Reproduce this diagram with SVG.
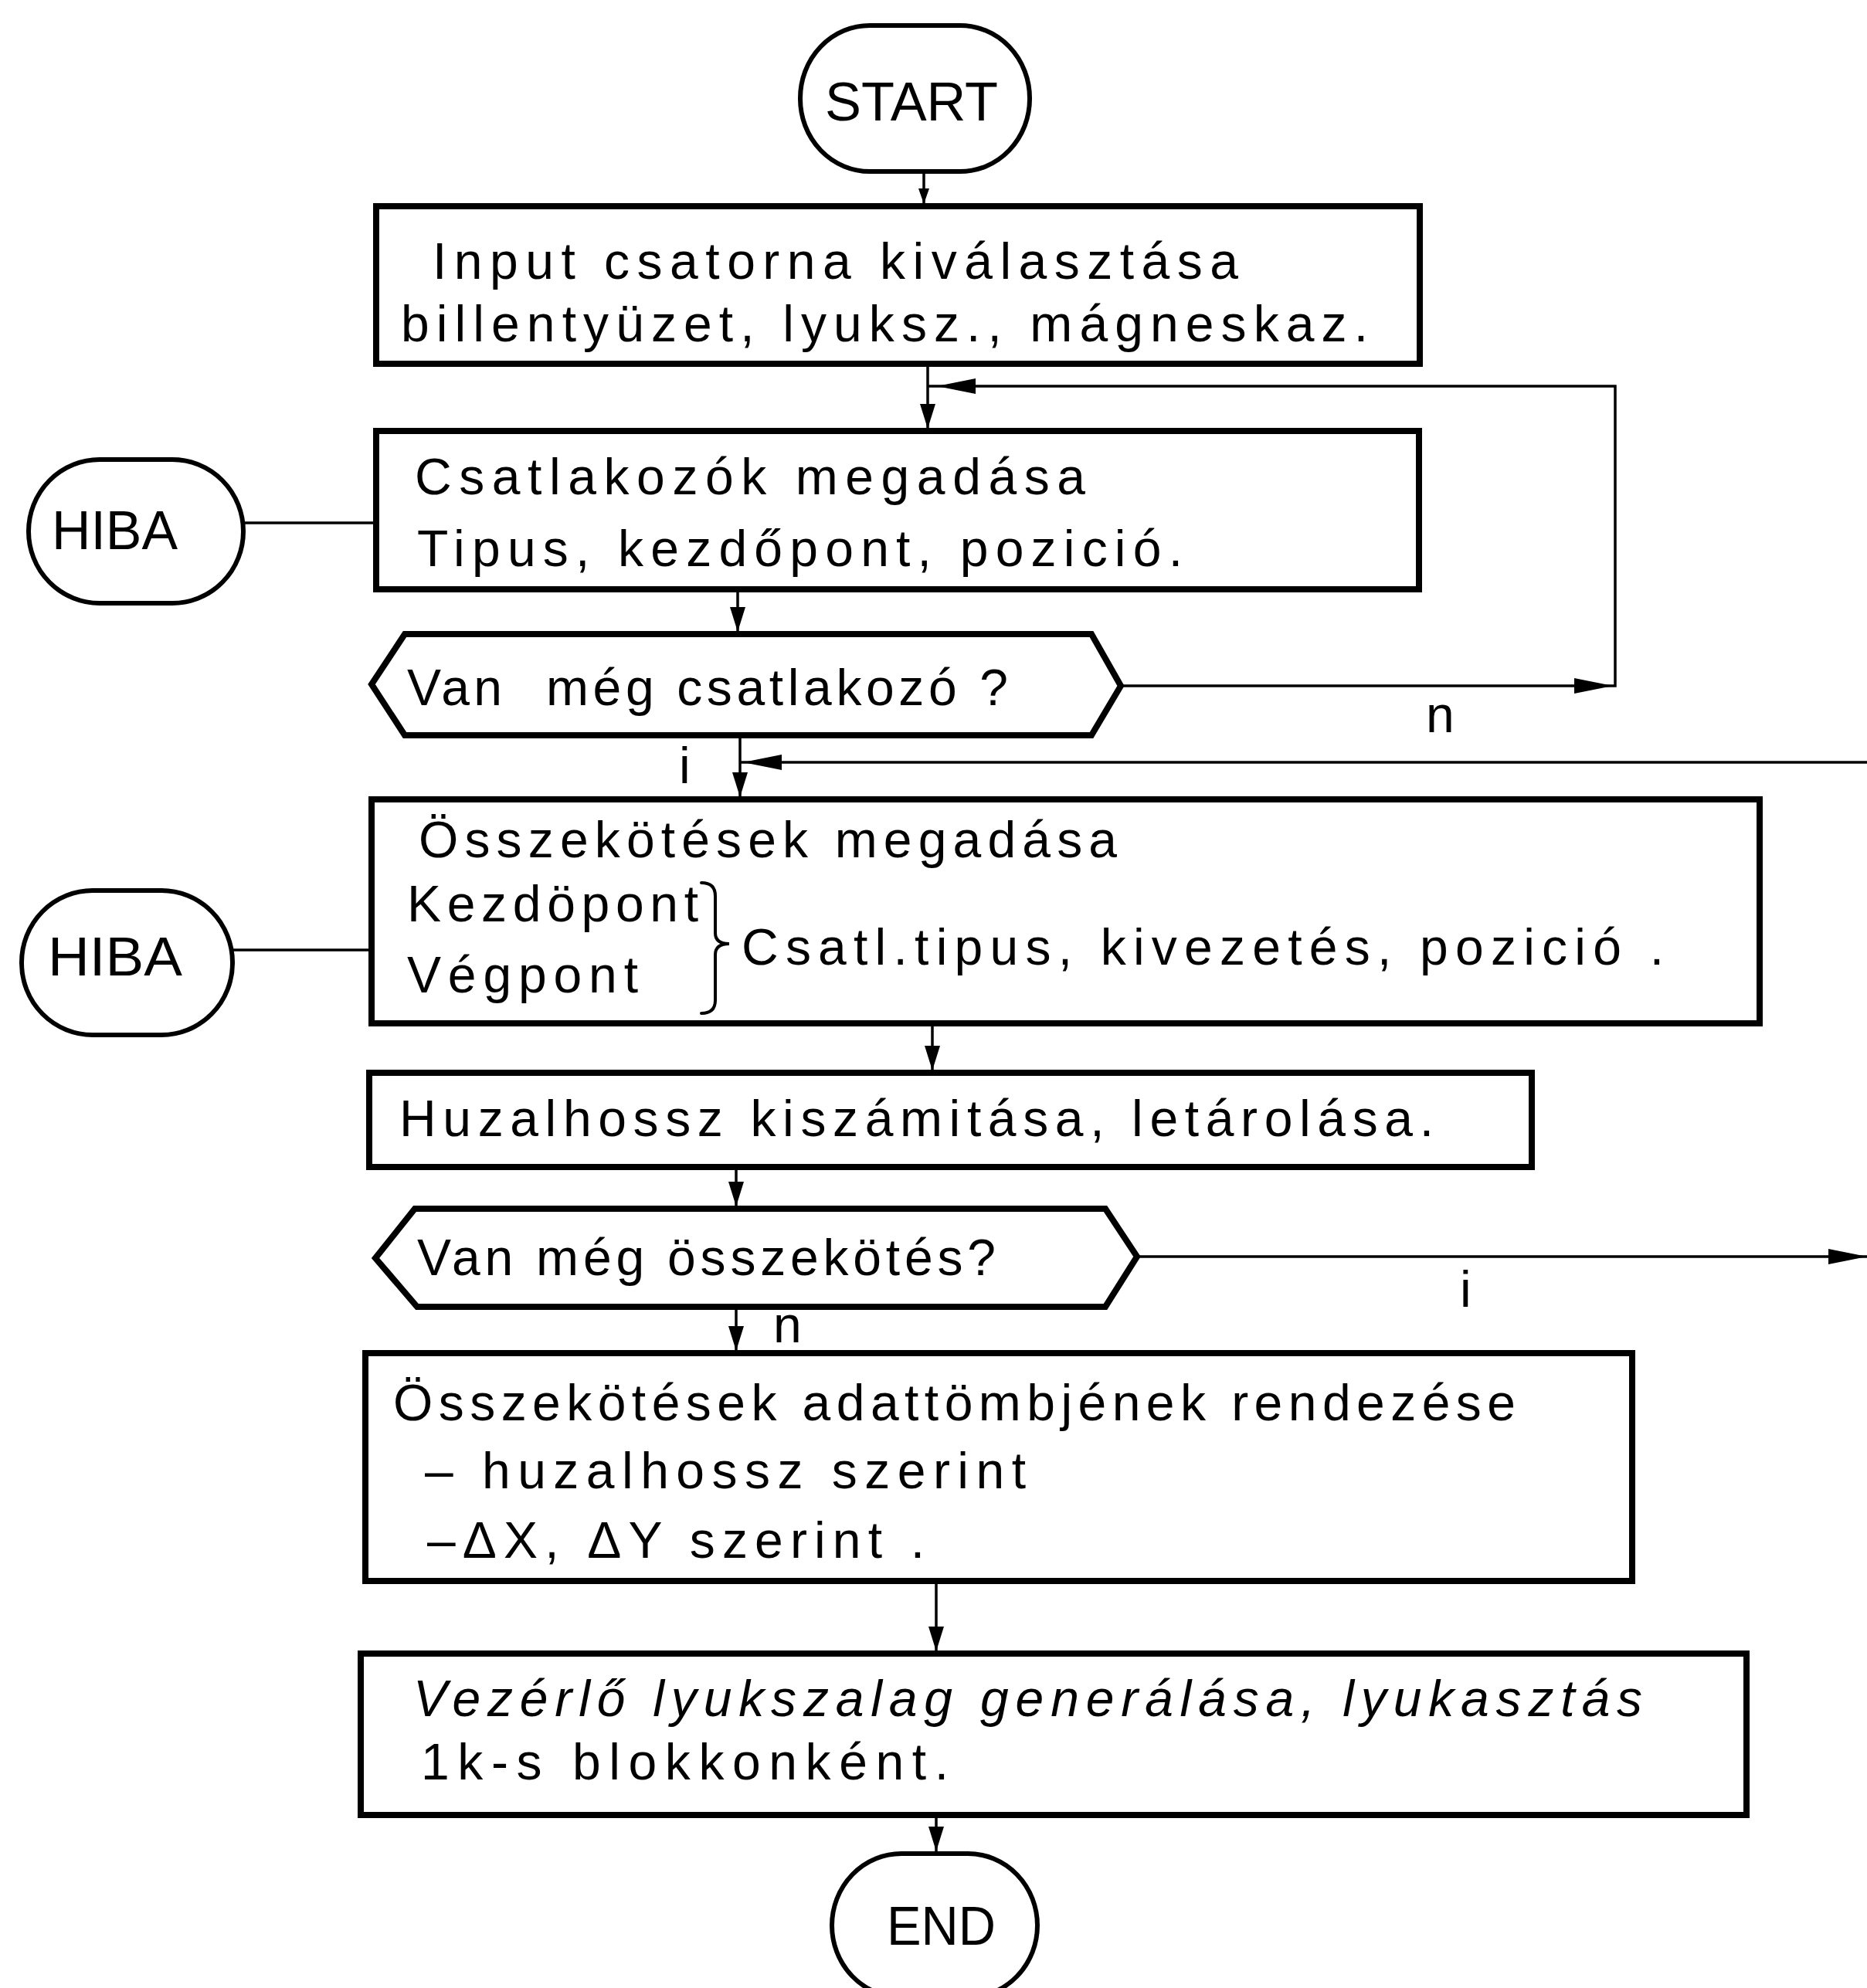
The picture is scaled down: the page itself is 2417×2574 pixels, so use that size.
<svg xmlns="http://www.w3.org/2000/svg" xmlns:xlink="http://www.w3.org/1999/xlink" width="2417" height="2574" viewBox="0 0 2417 2574">
  <style>
    .box { fill: #fff; stroke: #000; stroke-width: 8; }
    .term { fill: #fff; stroke: #000; stroke-width: 6; }
    .wire { fill: none; stroke: #000; stroke-width: 3.5; }
    .brace { fill: none; stroke: #000; stroke-width: 4; stroke-linecap: round; }
    .head { fill: #000; }
    .t { font-family: "Liberation Sans", Arial, sans-serif; font-size: 66px; fill: #000; }
    .tt { font-family: "Liberation Sans", Arial, sans-serif; font-size: 70px; fill: #000; }
    .it { font-style: italic; }
  </style>
  <defs>
    <!-- arrowheads, tip at the origin -->
    <path id="ahV" class="head" d="M0 0 L-10 -32 L10 -32 Z"/>
    <path id="ahS" class="head" d="M0 0 L-7 -20 L7 -20 Z"/>
    <path id="ahL" class="head" d="M0 0 L50 -10 L50 10 Z"/>
    <path id="ahR" class="head" d="M0 0 L-50 -10 L-50 10 Z"/>
  </defs>
  <rect width="2417" height="2574" fill="#fff"/>

  <!-- flow lines -->
  <g id="connectors">
    <line class="wire" x1="1196" y1="222" x2="1196" y2="267"/>
    <use href="#ahS" x="1196" y="264"/>
    <line class="wire" x1="1201" y1="471" x2="1201" y2="558"/>
    <use href="#ahV" x="1201" y="555"/>
    <polyline class="wire" points="1451,888 2091,888 2091,500 1201,500"/>
    <use href="#ahR" x="2088" y="888"/>
    <use href="#ahL" x="1213" y="500"/>
    <line class="wire" x1="955" y1="763" x2="955" y2="821"/>
    <use href="#ahV" x="955" y="818"/>
    <line class="wire" x1="315" y1="677" x2="487" y2="677"/>
    <line class="wire" x1="958" y1="952" x2="958" y2="1035"/>
    <use href="#ahV" x="958" y="1032"/>
    <line class="wire" x1="2417" y1="987" x2="958" y2="987"/>
    <use href="#ahL" x="962" y="987"/>
    <line class="wire" x1="301" y1="1230" x2="481" y2="1230"/>
    <line class="wire" x1="1207" y1="1325" x2="1207" y2="1389"/>
    <use href="#ahV" x="1207" y="1386"/>
    <line class="wire" x1="953" y1="1511" x2="953" y2="1565"/>
    <use href="#ahV" x="953" y="1562"/>
    <line class="wire" x1="1472" y1="1627" x2="2417" y2="1627"/>
    <use href="#ahR" x="2417" y="1627"/>
    <line class="wire" x1="953" y1="1692" x2="953" y2="1752"/>
    <use href="#ahV" x="953" y="1749"/>
    <line class="wire" x1="1212" y1="2047" x2="1212" y2="2141"/>
    <use href="#ahV" x="1212" y="2138"/>
    <line class="wire" x1="1212" y1="2350" x2="1212" y2="2400"/>
    <use href="#ahV" x="1212" y="2397"/>
    <!-- branch labels -->
    <text class="t" x="1846" y="948">n</text>
    <text class="t" x="879" y="1014">i</text>
    <text class="t" x="1890" y="1692">i</text>
    <text class="t" x="1001" y="1738">n</text>
  </g>

  <g id="n-start">
    <rect class="term" x="1036" y="33" width="297" height="189" rx="90" ry="94"/>
    <text class="tt" x="1068" y="156" textLength="224" lengthAdjust="spacingAndGlyphs">START</text>
  </g>

  <g id="n-input">
    <rect class="box" x="487" y="267" width="1351" height="204"/>
    <text class="t" x="560" y="361" textLength="1043" lengthAdjust="spacing">Input csatorna kiválasztása</text>
    <text class="t" x="519" y="442" textLength="1252" lengthAdjust="spacing">billentyüzet, lyuksz., mágneskaz.</text>
  </g>

  <g id="n-hiba1">
    <rect class="term" x="37" y="595" width="278" height="186" rx="92" ry="93"/>
    <text class="tt" x="67" y="711" textLength="163" lengthAdjust="spacingAndGlyphs">HIBA</text>
  </g>

  <g id="n-csatl">
    <rect class="box" x="487" y="558" width="1350" height="205"/>
    <text class="t" x="537" y="640" textLength="868" lengthAdjust="spacing">Csatlakozók megadása</text>
    <text class="t" x="540" y="733" textLength="991" lengthAdjust="spacing">Tipus, kezdőpont, pozició.</text>
  </g>

  <g id="n-dec1">
    <polygon class="box" points="524,821 1413,821 1451,888 1413,952 524,952 481,886"/>
    <text class="t" x="527" y="913" textLength="123" lengthAdjust="spacing">Van</text>
    <text class="t" x="707" y="913" textLength="598" lengthAdjust="spacing">még csatlakozó ?</text>
  </g>

  <g id="n-hiba2">
    <rect class="term" x="28" y="1153" width="273" height="187" rx="92" ry="93"/>
    <text class="tt" x="62" y="1263" textLength="174" lengthAdjust="spacingAndGlyphs">HIBA</text>
  </g>

  <g id="n-osszek">
    <rect class="box" x="481" y="1035" width="1797" height="290"/>
    <text class="t" x="542" y="1110" textLength="904" lengthAdjust="spacing">Összekötések megadása</text>
    <text class="t" x="527" y="1193" textLength="377" lengthAdjust="spacing">Kezdöpont</text>
    <text class="t" x="527" y="1285" textLength="299" lengthAdjust="spacing">Végpont</text>
    <path class="brace" d="M908 1143 Q926 1143 926 1160 L926 1208 Q926 1222 944 1222 Q926 1222 926 1236 L926 1295 Q926 1312 908 1312"/>
    <text class="t" x="960" y="1249" textLength="1194" lengthAdjust="spacing">Csatl.tipus, kivezetés, pozició .</text>
  </g>

  <g id="n-huzal">
    <rect class="box" x="478" y="1389" width="1505" height="122"/>
    <text class="t" x="517" y="1471" textLength="1339" lengthAdjust="spacing">Huzalhossz kiszámitása, letárolása.</text>
  </g>

  <g id="n-dec2">
    <polygon class="box" points="537,1565 1431,1565 1472,1627 1431,1692 540,1692 486,1629"/>
    <text class="t" x="540" y="1651" textLength="749" lengthAdjust="spacing">Van még összekötés?</text>
  </g>

  <g id="n-rendez">
    <rect class="box" x="473" y="1752" width="1640" height="295"/>
    <text class="t" x="509" y="1839" textLength="1453" lengthAdjust="spacing">Összekötések adattömbjének rendezése</text>
    <text class="t" x="550" y="1927" textLength="778" lengthAdjust="spacing">– huzalhossz szerint</text>
    <text class="t" x="553" y="2017" textLength="644" lengthAdjust="spacing">–ΔX, ΔY szerint .</text>
  </g>

  <g id="n-vezerlo">
    <rect class="box" x="467" y="2141" width="1794" height="209"/>
    <text class="t it" x="535" y="2222" textLength="1591" lengthAdjust="spacing">Vezérlő lyukszalag generálása, lyukasztás</text>
    <text class="t" x="545" y="2304" textLength="683" lengthAdjust="spacing">1k-s blokkonként.</text>
  </g>

  <g id="n-end">
    <rect class="term" x="1077" y="2400" width="266" height="186" rx="90" ry="93"/>
    <text class="tt" x="1148" y="2518" textLength="141" lengthAdjust="spacingAndGlyphs">END</text>
  </g>
</svg>
